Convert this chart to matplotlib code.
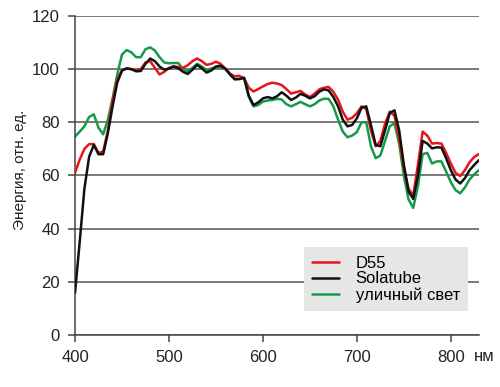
import numpy as np
import matplotlib
matplotlib.use("Agg")
from matplotlib import pyplot as plt

plt.rcParams['font.family'] = ['Liberation Sans', 'DejaVu Sans']

# длины волн, нм
wl = [400, 405, 410, 415, 420, 425, 430, 435, 440, 445, 450, 455, 460, 465, 470,
      475, 480, 485, 490, 495, 500, 505, 510, 515, 520, 525, 530, 535, 540, 545,
      550, 555, 560, 565, 570, 575, 580, 585, 590, 595, 600, 605, 610, 615, 620,
      625, 630, 635, 640, 645, 650, 655, 660, 665, 670, 675, 680, 685, 690, 695,
      700, 705, 710, 715, 720, 725, 730, 735, 740, 745, 750, 755, 760, 765, 770,
      775, 780, 785, 790, 795, 800, 805, 810, 815, 820, 825, 830]

d55 = [61, 66, 70, 71.8, 71.8, 68.5, 69, 77, 88, 96, 99.5, 100.2, 100, 99.5, 100,
       102.5, 103, 100.5, 98, 99, 100.5, 101, 100.8, 100.5, 101.5, 103, 104, 103, 101.6, 102,
       102.8, 102, 100.2, 98.3, 97.3, 97.5, 96.5, 93, 91.6, 92.5, 93.5, 94.4, 94.9, 94.6, 94,
       92.5, 90.8, 91.3, 91.8, 90.5, 89.5, 90.8, 92.4, 93, 93.3, 91.5, 88.5, 84, 81, 81.7,
       83.4, 86, 85, 77, 71, 73, 79.5, 84, 82.5, 74, 63, 55, 52.5, 64, 76.5,
       75, 72, 72.2, 72, 68.5, 64.5, 61, 59.8, 62, 65, 67, 68.1]

solatube = [15.8, 35, 55, 67, 71.5, 68, 68, 76, 86, 95, 99.5, 100.3, 100, 99.2, 99.3,
            102, 104, 103, 101, 99.8, 100.2, 101, 100.3, 99, 98.2, 99.8, 101.6, 100.3, 98.7, 99.5,
            101, 101.3, 100.2, 98, 96.2, 96.3, 96.8, 90, 86.5, 87.5, 89, 89.5, 89, 89.8, 91.3,
            90, 88.4, 89.3, 90.7, 90, 89, 89.8, 91.5, 92.4, 92, 89.5, 86, 81, 78.5, 79,
            81.5, 85.5, 86, 79, 71.5, 71, 77, 83.5, 84.5, 77, 64, 54, 51.2, 60, 73,
            72, 70.2, 70.6, 70.5, 66.5, 62, 58.5, 57, 59, 62, 64, 65.8]

street = [74.6, 76.5, 78.5, 82, 83, 78, 75.5, 81, 89, 98, 105.5, 107.2, 106.3, 104.5, 104.5,
          107.5, 108.2, 107, 104.5, 102.5, 102.2, 102.3, 102.3, 100, 99.2, 100.5, 102, 101, 99.7, 100.2,
          100.8, 101, 100, 98, 96.2, 96.3, 96.5, 89.5, 86, 86.5, 87.8, 88.2, 88.4, 88.8, 88.6,
          86.8, 86, 86.8, 87.7, 86.8, 86, 86.8, 88.2, 88.9, 88.8, 86, 81, 76.5, 74.4, 75,
          76.3, 80, 80, 71, 66.5, 67.5, 73, 78.5, 79.7, 72, 60, 51, 47.8, 56, 68,
          68.5, 64.5, 65.3, 65.3, 61.5, 57.5, 54.5, 53.3, 55.5, 58.5, 60.5, 62]

fig = plt.figure(figsize=(5, 3.87), dpi=100)
ax = fig.add_axes([0.15, 0.1344, 0.808, 0.8243])

style = dict(lw=1.8, solid_joinstyle='round', solid_capstyle='round')
ax.plot(wl, d55, color='#e8141c', label='D55', zorder=3, **style)
ax.plot(wl, solatube, color='#111111', label='Solatube', zorder=4, **style)
ax.plot(wl, street, color='#17994a', label='уличный свет', zorder=2, **style)

ax.set_xlim(400, 830)
ax.set_ylim(0, 120)
ax.set_xticks([400, 500, 600, 700, 800])
ax.set_yticks(np.arange(0, 121, 20))
ax.grid(axis='y', color='#555555', lw=1.1)
ax.set_axisbelow(True)

for s in ['top', 'right']:
    ax.spines[s].set_visible(False)
for s in ['left', 'bottom']:
    ax.spines[s].set_color('#444444')
    ax.spines[s].set_linewidth(1.1)
ax.tick_params(axis='both', length=5, width=1.1, color='#444444', labelsize=12,
               labelcolor='#222222', pad=6)

fig.text(0.04, 0.56, 'Энергия, отн. ед.', rotation=90, ha='center', va='center',
         fontsize=11, color='#222222')
ax.text(0.988, -0.069, 'нм', transform=ax.transAxes, ha='left', va='center',
        fontsize=12, color='#222222')

leg = ax.legend(loc='lower right', bbox_to_anchor=(0.973, 0.075), borderaxespad=0,
                fontsize=12, frameon=True, fancybox=False, handlelength=1.6,
                labelspacing=0.05, handletextpad=1.0, borderpad=0.5)
leg.get_frame().set_facecolor('#e6e6e6')
leg.get_frame().set_edgecolor('none')
leg.get_frame().set_alpha(1)
leg.set_zorder(10)

plt.savefig('out.png', dpi=100)
plt.close()
